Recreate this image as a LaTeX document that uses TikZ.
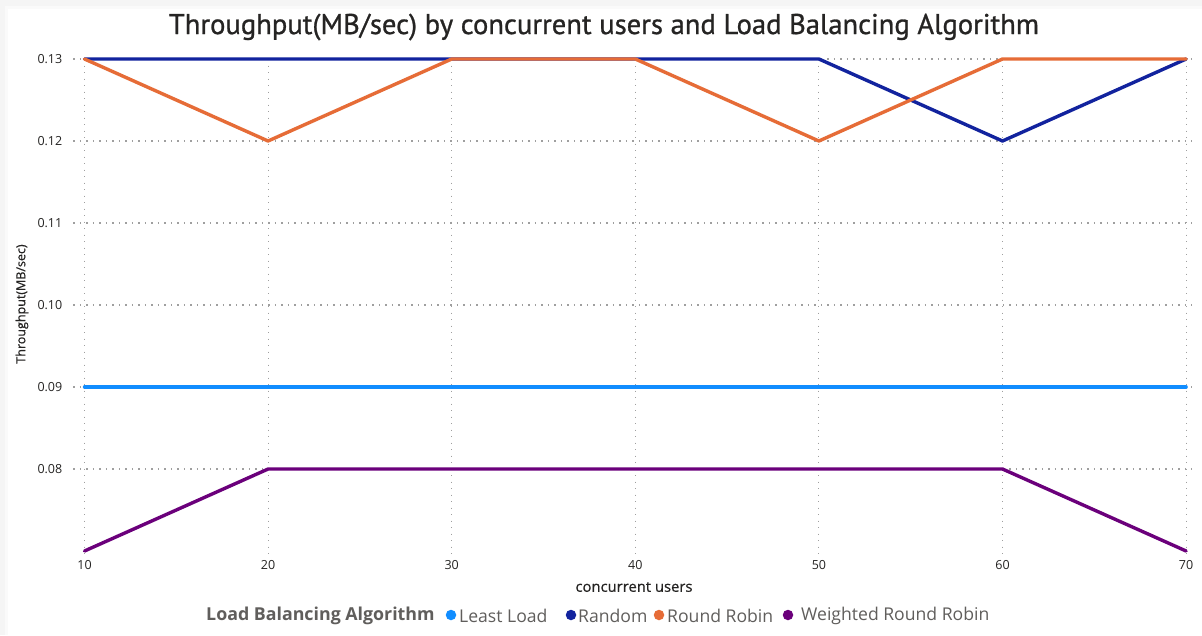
\documentclass[tikz,border=0pt]{standalone}
\usepackage{fontspec}
\setmainfont{Open Sans}
\newfontfamily\titlefont[FakeBold=0.9]{PT Sans}
\newfontfamily\legendfont{Open Sans}
\definecolor{leastload}{HTML}{118DFF}
\definecolor{randomc}{HTML}{12239E}
\definecolor{roundrobin}{HTML}{E66C37}
\definecolor{weighted}{HTML}{6B007B}
\definecolor{labelgray}{HTML}{252423}
\definecolor{legendgray}{HTML}{605E5C}
\tikzset{
  gridline/.style={draw=gray!75, line width=1.1pt, dash pattern=on 1.1pt off 5.4pt},
  series/.style={line width=3.4pt, line join=round, line cap=round},
  ticklabel/.style={font=\fontsize{12.5}{14}\selectfont, text=labelgray, inner sep=0pt},
  axistitle/.style={font=\fontsize{13}{15}\selectfont, text=labelgray, inner sep=0pt},
  legendtext/.style={font=\legendfont\fontsize{17.6}{19}\selectfont, text=legendgray, inner sep=0pt, anchor=west},
  legenddot/.style={circle, inner sep=0pt, minimum size=10.5pt},
}
\begin{document}
\begin{tikzpicture}[x=1pt, y=-1pt]
  % canvas and card edge
  \useasboundingbox (0,0) rectangle (1202,635);
  \fill[black!4] (0,0) rectangle (1202,635);
  \fill[black!2] (5,6) rectangle (1202,635);
  \fill[white] (8,9) rectangle (1202,635);

  % chart title
  \node[font=\titlefont\fontsize{28.6}{31}\selectfont, text=labelgray, inner sep=0pt] (title) at (604,27)
    {Throughput(MB/sec) by concurrent users and Load Balancing Algorithm};

  % plot area: x index 0..6 = 10..70 users, y in hundredths above 0.07
  \begin{scope}[shift={(84.5pt,-551pt)}, x=183.6pt, y=82pt]
    % horizontal grid and y tick labels
    \foreach \h/\lab in {1/0.08, 2/0.09, 3/0.10, 4/0.11, 5/0.12, 6/0.13} {
      \coordinate (gl\h) at (-0.06,\h);
      \coordinate (gr\h) at (6.03,\h);
      \draw[gridline] (gl\h) -- (gr\h);
      \node[ticklabel, anchor=east] (yt\h) at (-0.12,\h) {\lab};
    }
    % vertical grid and x tick labels
    \foreach \i/\lab in {0/10, 1/20, 2/30, 3/40, 4/50, 5/60, 6/70} {
      \coordinate (gb\i) at (\i,-0.05);
      \coordinate (gt\i) at (\i,6);
      \draw[gridline] (gt\i) -- (gb\i);
      \node[ticklabel] (xt\i) at (\i,-0.17) {\lab};
    }

    % data points
    \foreach \i/\h in {0/2, 1/2, 2/2, 3/2, 4/2, 5/2, 6/2}
      \coordinate (ll\i) at (\i,\h);
    \foreach \i/\h in {0/6, 1/6, 2/6, 3/6, 4/6, 5/5, 6/6}
      \coordinate (rd\i) at (\i,\h);
    \foreach \i/\h in {0/6, 1/5, 2/6, 3/6, 4/5, 5/6, 6/6}
      \coordinate (rr\i) at (\i,\h);
    \foreach \i/\h in {0/0, 1/1, 2/1, 3/1, 4/1, 5/1, 6/0}
      \coordinate (wr\i) at (\i,\h);

    % series
    \draw[series, leastload] (ll0) \foreach \i in {1,...,6} { -- (ll\i) };
    \draw[series, randomc] (rd0) \foreach \i in {1,...,6} { -- (rd\i) };
    \draw[series, roundrobin] (rr0) \foreach \i in {1,...,6} { -- (rr\i) };
    \draw[series, weighted] (wr0) \foreach \i in {1,...,6} { -- (wr\i) };
  \end{scope}

  % axis titles
  \node[axistitle, font=\fontsize{14.8}{17}\selectfont\addfontfeatures{FakeBold=0.6}] (xtitle) at (634,587) {concurrent users};
  \node[axistitle, rotate=90, font=\fontsize{12.5}{15}\selectfont\addfontfeatures{FakeBold=0.6}] (ytitle) at (22,304) {Throughput(MB/sec)};

  % legend
  \node[legendtext, font=\legendfont\bfseries\fontsize{17.8}{19}\selectfont] (legtitle) at (206,616) {Load Balancing Algorithm};
  \node[legenddot, fill=leastload] (dotll) at (451,615) {};
  \node[legendtext] (legll) at (459,616) {Least Load};
  \node[legenddot, fill=randomc] (dotrd) at (571,615) {};
  \node[legendtext] (legrd) at (578,616) {Random};
  \node[legenddot, fill=roundrobin] (dotrr) at (659,615) {};
  \node[legendtext] (legrr) at (667,616) {Round Robin};
  \node[legenddot, fill=weighted] (dotwr) at (788,615) {};
  \node[legendtext] (legwr) at (801,616) {Weighted Round Robin};
\end{tikzpicture}
\end{document}
